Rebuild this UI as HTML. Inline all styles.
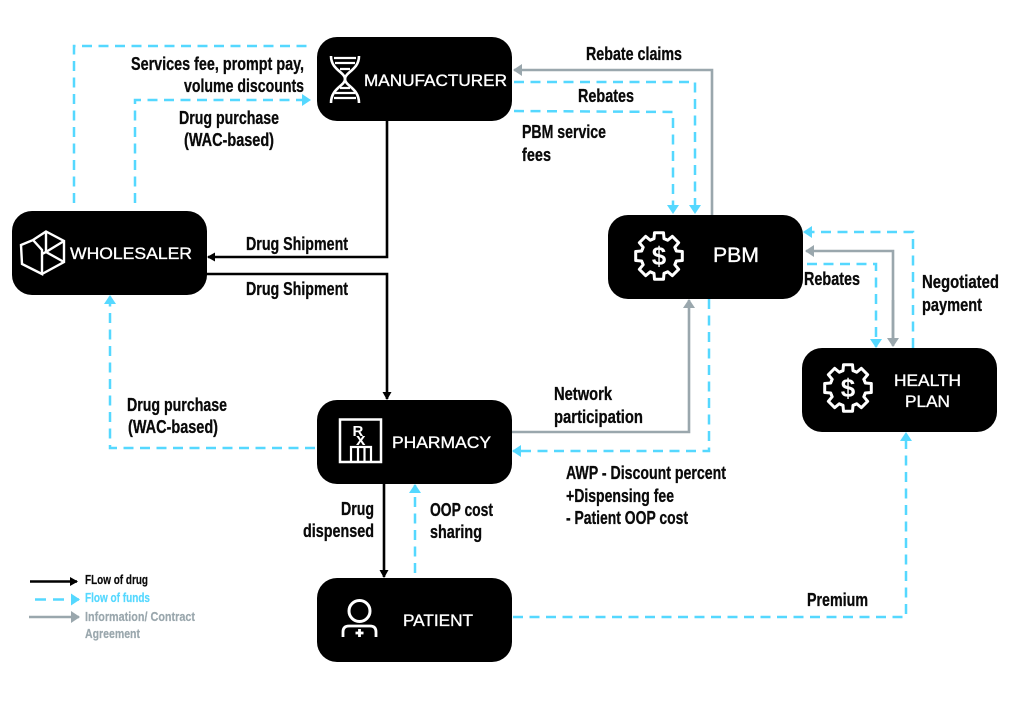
<!DOCTYPE html>
<html><head><meta charset="utf-8"><style>
html,body{margin:0;padding:0;background:#fff}
svg{display:block}
.t{font-family:"Liberation Sans Narrow","Liberation Sans",sans-serif;font-weight:700;font-size:18px;fill:#0a0a0a;stroke:#0a0a0a;stroke-width:.3}
.b{font-family:"Liberation Sans",sans-serif;font-size:17px;fill:#fff;stroke:#fff;stroke-width:.35}
.c{fill:none;stroke:#55d8ff;stroke-width:2.5;stroke-dasharray:10 6.5}
.k{fill:none;stroke:#000;stroke-width:2.6}
.g{fill:none;stroke:#9aa7ad;stroke-width:2.6}
.w{fill:none;stroke:#fff;stroke-width:2.4}
</style></head><body>
<svg width="1024" height="722" viewBox="0 0 1024 722" xmlns="http://www.w3.org/2000/svg">
<defs>
<marker id="ac" markerUnits="userSpaceOnUse" markerWidth="9" markerHeight="12" refX="8" refY="6" orient="auto"><path d="M0,0L9,6L0,12z" fill="#55d8ff"/></marker>
<marker id="ak" markerUnits="userSpaceOnUse" markerWidth="8" markerHeight="9" refX="7" refY="4.5" orient="auto"><path d="M0,0L8,4.5L0,9z" fill="#000"/></marker>
<marker id="ag" markerUnits="userSpaceOnUse" markerWidth="9" markerHeight="12" refX="8" refY="6" orient="auto"><path d="M0,0L9,6L0,12z" fill="#9aa7ad"/></marker>
<path id="tooth" d="M-6.9,-16.6L-5,-17.3L-4.5,-23.3L4.5,-23.3L5,-17.3L6.9,-16.6" fill="none" stroke="#fff" stroke-width="3" stroke-linejoin="round" stroke-linecap="round"/>
<g id="gear">
<use href="#tooth"/><use href="#tooth" transform="rotate(45)"/><use href="#tooth" transform="rotate(90)"/><use href="#tooth" transform="rotate(135)"/>
<use href="#tooth" transform="rotate(180)"/><use href="#tooth" transform="rotate(225)"/><use href="#tooth" transform="rotate(270)"/><use href="#tooth" transform="rotate(315)"/>
</g>
</defs>

<!-- connectors -->
<polyline class="c" points="74,203 74,46 308,46"/>
<polyline class="c" points="135,203 135,100 310,100" marker-end="url(#ac)"/>
<polyline class="k" points="387,121 387,257 208,257" marker-end="url(#ak)"/>
<polyline class="k" points="207,274 387,274 387,399" marker-end="url(#ak)"/>
<polyline class="g" points="712,215 712,70 514,70" marker-end="url(#ag)"/>
<polyline class="c" points="514,82 695,82 695,213" marker-end="url(#ac)"/>
<polyline class="c" points="514,111 673,112 673,213" marker-end="url(#ac)"/>
<polyline class="c" points="913,348 913,232 804,232" marker-end="url(#ac)"/>
<polyline class="g" points="893,345 893,251 806,251" marker-end="url(#ag)"/>
<polyline class="g" points="893,300 893,346" marker-end="url(#ag)"/>
<polyline class="c" points="807,264 876,264 876,347" marker-end="url(#ac)"/>
<polyline class="g" points="512,432 689,432 689,300" marker-end="url(#ag)"/>
<polyline class="c" points="709,299 709,451 513,451" marker-end="url(#ac)"/>
<polyline class="c" points="315,448 110,448 110,296" marker-end="url(#ac)"/>
<polyline class="k" points="384,484 384,577" marker-end="url(#ak)"/>
<polyline class="c" points="415,573 415,485" marker-end="url(#ac)"/>
<polyline class="c" points="513,617 906,617 906,433" marker-end="url(#ac)"/>

<!-- nodes -->
<rect x="317" y="37" width="195" height="84" rx="20" fill="#000"/>
<rect x="12" y="211" width="195" height="84" rx="20" fill="#000"/>
<rect x="608" y="215" width="195" height="84" rx="20" fill="#000"/>
<rect x="317" y="400" width="195" height="84" rx="20" fill="#000"/>
<rect x="317" y="578" width="195" height="84" rx="20" fill="#000"/>
<rect x="802" y="348" width="195" height="84" rx="20" fill="#000"/>

<!-- DNA icon -->
<g fill="none" stroke="#fff">
<path stroke-width="2.6" d="M331,56C331,70 345,72 345,79C345,86 359,88 359,103"/>
<path stroke-width="2.6" d="M359,56C359,70 345,72 345,79C345,86 331,88 331,103"/>
<path stroke-width="2.2" d="M334,58H356M335,63H355M340,69H350M340,88H350M335,93H355M334,98H356"/>
</g>
<!-- cube icon -->
<g class="w">
<path d="M33,240L46,231.500L64,241V262L42,274"/>
<path d="M46,231.500V252M64,241L46,252L64,262M46,252L42,254"/>
<path d="M21,245L33,240L42,250V274L22,264Z"/>
</g>
<!-- gears -->
<use href="#gear" transform="translate(659,256)"/>
<use href="#gear" transform="translate(848,388)"/>
<text x="659" y="265" text-anchor="middle" style="font-family:'Liberation Sans',sans-serif;font-weight:700;font-size:26px;fill:#fff">$</text>
<text x="848" y="397" text-anchor="middle" style="font-family:'Liberation Sans',sans-serif;font-weight:700;font-size:26px;fill:#fff">$</text>
<!-- Rx icon -->
<rect x="340" y="419.500" width="41" height="42.500" fill="none" stroke="#fff" stroke-width="2.500"/>
<text x="352.500" y="436" style="font-family:'Liberation Sans',sans-serif;font-weight:700;font-size:15px;fill:#fff">R</text>
<text x="356" y="445" style="font-family:'Liberation Sans',sans-serif;font-weight:700;font-size:17px;fill:#fff">x</text>
<path d="M351,462V447H371V462M358,447V462M364.500,447V462" fill="none" stroke="#fff" stroke-width="2.200"/>
<!-- patient icon -->
<circle cx="359.500" cy="611" r="10.500" fill="none" stroke="#fff" stroke-width="3"/>
<path d="M343,637V632Q343,626 349,626H370Q376,626 376,632V637" fill="none" stroke="#fff" stroke-width="2.800"/>
<path d="M359.500,629V637M355.500,633H363.500" stroke="#fff" stroke-width="2.800"/>

<!-- node labels -->
<text class="b" x="364" y="86" textLength="143" lengthAdjust="spacingAndGlyphs">MANUFACTURER</text>
<text class="b" x="70" y="259" textLength="122" lengthAdjust="spacingAndGlyphs">WHOLESALER</text>
<text class="b" x="713" y="262" textLength="46" lengthAdjust="spacingAndGlyphs" style="font-size:21px">PBM</text>
<text class="b" x="392" y="448" textLength="99" lengthAdjust="spacingAndGlyphs">PHARMACY</text>
<text class="b" x="403" y="626" textLength="70" lengthAdjust="spacingAndGlyphs">PATIENT</text>
<text class="b" x="894" y="386" textLength="67" lengthAdjust="spacingAndGlyphs">HEALTH</text>
<text class="b" x="905" y="407" textLength="45" lengthAdjust="spacingAndGlyphs">PLAN</text>

<!-- connector labels -->
<text class="t" x="131" y="70" textLength="173" lengthAdjust="spacingAndGlyphs">Services fee, prompt pay,</text>
<text class="t" x="184" y="92" textLength="120" lengthAdjust="spacingAndGlyphs">volume discounts</text>
<text class="t" x="179" y="124" textLength="100" lengthAdjust="spacingAndGlyphs">Drug purchase</text>
<text class="t" x="184" y="146" textLength="90" lengthAdjust="spacingAndGlyphs">(WAC-based)</text>
<text class="t" x="246" y="250" textLength="102" lengthAdjust="spacingAndGlyphs">Drug Shipment</text>
<text class="t" x="246" y="295" textLength="102" lengthAdjust="spacingAndGlyphs">Drug Shipment</text>
<text class="t" x="586" y="60" textLength="96" lengthAdjust="spacingAndGlyphs">Rebate claims</text>
<text class="t" x="578" y="102" textLength="56" lengthAdjust="spacingAndGlyphs">Rebates</text>
<text class="t" x="522" y="138" textLength="84" lengthAdjust="spacingAndGlyphs">PBM service</text>
<text class="t" x="522" y="161" textLength="29" lengthAdjust="spacingAndGlyphs">fees</text>
<text class="t" x="804" y="285" textLength="56" lengthAdjust="spacingAndGlyphs">Rebates</text>
<text class="t" x="922" y="288" textLength="77" lengthAdjust="spacingAndGlyphs">Negotiated</text>
<text class="t" x="922" y="311" textLength="60" lengthAdjust="spacingAndGlyphs">payment</text>
<text class="t" x="554" y="400" textLength="58" lengthAdjust="spacingAndGlyphs">Network</text>
<text class="t" x="554" y="423" textLength="89" lengthAdjust="spacingAndGlyphs">participation</text>
<text class="t" x="566" y="479" textLength="160" lengthAdjust="spacingAndGlyphs">AWP - Discount percent</text>
<text class="t" x="566" y="502" textLength="108" lengthAdjust="spacingAndGlyphs">+Dispensing fee</text>
<text class="t" x="566" y="524" textLength="122" lengthAdjust="spacingAndGlyphs">- Patient OOP cost</text>
<text class="t" x="341" y="515" textLength="33" lengthAdjust="spacingAndGlyphs">Drug</text>
<text class="t" x="303" y="537" textLength="71" lengthAdjust="spacingAndGlyphs">dispensed</text>
<text class="t" x="430" y="516" textLength="63" lengthAdjust="spacingAndGlyphs">OOP cost</text>
<text class="t" x="430" y="538" textLength="52" lengthAdjust="spacingAndGlyphs">sharing</text>
<text class="t" x="127" y="411" textLength="100" lengthAdjust="spacingAndGlyphs">Drug purchase</text>
<text class="t" x="128" y="433" textLength="90" lengthAdjust="spacingAndGlyphs">(WAC-based)</text>
<text class="t" x="807" y="606" textLength="61" lengthAdjust="spacingAndGlyphs">Premium</text>

<!-- legend -->
<line x1="30" y1="581.500" x2="77" y2="581.500" stroke="#000" stroke-width="2.400" marker-end="url(#ak)"/>
<line x1="35" y1="599.500" x2="79" y2="599.500" stroke="#55d8ff" stroke-width="2.400" stroke-dasharray="11 7" marker-end="url(#ac)"/>
<line x1="29" y1="617" x2="79" y2="617" stroke="#9aa7ad" stroke-width="2.400" marker-end="url(#ag)"/>
<text class="t" x="85" y="584" textLength="63" lengthAdjust="spacingAndGlyphs" style="font-size:12.500px;stroke-width:.2">FLow of drug</text>
<text class="t" x="85" y="602" textLength="65" lengthAdjust="spacingAndGlyphs" style="font-size:12.500px;fill:#55d8ff;stroke:#55d8ff;stroke-width:.2">Flow of funds</text>
<text class="t" x="85" y="621" textLength="110" lengthAdjust="spacingAndGlyphs" style="font-size:12.500px;fill:#9aa7ad;stroke:#9aa7ad;stroke-width:.2">Information/ Contract</text>
<text class="t" x="85" y="638" textLength="55" lengthAdjust="spacingAndGlyphs" style="font-size:12.500px;fill:#9aa7ad;stroke:#9aa7ad;stroke-width:.2">Agreement</text>
</svg>
</body></html>
